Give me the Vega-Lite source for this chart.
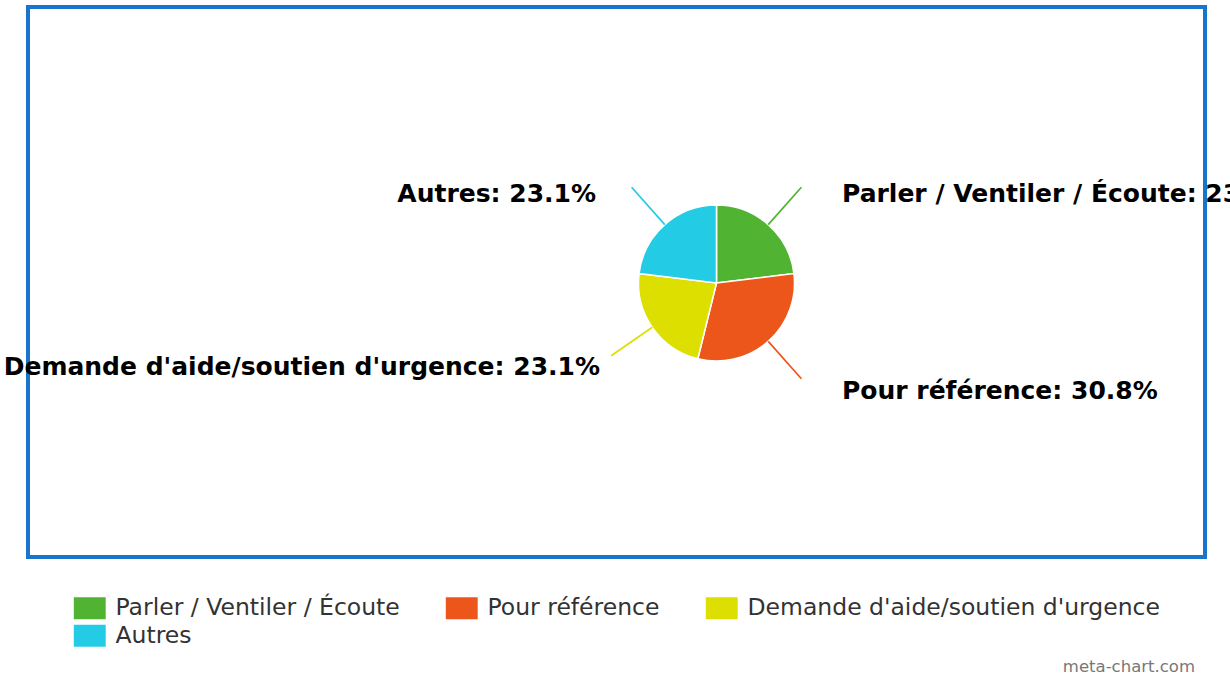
{
  "$schema": "https://vega.github.io/schema/vega-lite/v6.json",
  "width": 1177,
  "height": 550,
  "autosize": {"type": "none"},
  "padding": {"left": 28, "top": 7, "right": 25, "bottom": 118},
  "background": "white",
  "view": {"stroke": "#1874CD", "strokeWidth": 4, "fill": "white"},
  "data": {
    "values": [
      {"category": "Parler / Ventiler / Écoute", "share": 23.1, "label": "Parler / Ventiler / Écoute: 23.1%"},
      {"category": "Pour référence", "share": 30.8, "label": "Pour référence: 30.8%"},
      {"category": "Demande d'aide/soutien d'urgence", "share": 23.1, "label": "Demande d'aide/soutien d'urgence: 23.1%"},
      {"category": "Autres", "share": 23.1, "label": "Autres: 23.1%"}
    ]
  },
  "transform": [{"window": [{"op": "row_number", "as": "rank"}]}],
  "encoding": {
    "theta": {"field": "share", "type": "quantitative", "stack": true},
    "order": {"field": "rank", "type": "quantitative"}
  },
  "layer": [
    {
      "mark": {"type": "arc", "outerRadius": 78, "stroke": "#ffffff", "strokeWidth": 1.5, "xOffset": 100, "yOffset": 1},
      "encoding": {
        "color": {
          "field": "category",
          "type": "nominal",
          "sort": null,
          "scale": {
            "domain": ["Parler / Ventiler / Écoute", "Pour référence", "Demande d'aide/soutien d'urgence", "Autres"],
            "range": ["#50B432", "#ED561B", "#DDDF00", "#24CBE5"]
          },
          "legend": {
            "orient": "none",
            "direction": "horizontal",
            "legendX": 50,
            "legendY": 589,
            "columns": 3,
            "title": null,
            "symbolType": "M-1.45,-1H1.45V1H-1.45Z",
            "symbolSize": 484,
            "symbolStrokeWidth": 0,
            "symbolOpacity": 1,
            "labelFont": "DejaVu Sans",
            "labelFontSize": 23.5,
            "labelColor": "#333333",
            "labelOffset": 14,
            "labelLimit": 600,
            "columnPadding": 45,
            "rowPadding": 3,
            "padding": 0
          }
        }
      }
    },
    {
      "mark": {"type": "arc", "innerRadius": 78, "outerRadius": 128, "padAngle": 3, "fillOpacity": 0, "strokeWidth": 1.7, "xOffset": 100, "yOffset": 1},
      "encoding": {
        "stroke": {
          "field": "category",
          "type": "nominal",
          "scale": {
            "domain": ["Parler / Ventiler / Écoute", "Pour référence", "Demande d'aide/soutien d'urgence", "Autres"],
            "range": ["#50B432", "#ED561B", "#DDDF00", "#24CBE5"]
          },
          "legend": null
        }
      }
    },
    {
      "mark": {"type": "text", "radius": 125, "xOffset": 100, "yOffset": 1, "dx": 42.6, "dy": 12.5, "align": "left", "baseline": "alphabetic", "font": "DejaVu Sans", "fontWeight": "bold", "fontSize": 25, "color": "#000000"},
      "encoding": {"text": {"condition": {"test": "datum.category === 'Parler / Ventiler / Écoute'", "field": "label"}, "value": ""}}
    },
    {
      "mark": {"type": "text", "radius": 125, "xOffset": 100, "yOffset": 1, "dx": 42.6, "dy": 22.5, "align": "left", "baseline": "alphabetic", "font": "DejaVu Sans", "fontWeight": "bold", "fontSize": 25, "color": "#000000"},
      "encoding": {"text": {"condition": {"test": "datum.category === 'Pour référence'", "field": "label"}, "value": ""}}
    },
    {
      "mark": {"type": "text", "radius": 125, "xOffset": 100, "yOffset": 1, "dx": -13.6, "dy": 21, "align": "right", "baseline": "alphabetic", "font": "DejaVu Sans", "fontWeight": "bold", "fontSize": 25, "color": "#000000"},
      "encoding": {"text": {"condition": {"test": "datum.category === \"Demande d'aide/soutien d'urgence\"", "field": "label"}, "value": ""}}
    },
    {
      "mark": {"type": "text", "radius": 125, "xOffset": 100, "yOffset": 1, "dx": -37.6, "dy": 12.5, "align": "right", "baseline": "alphabetic", "font": "DejaVu Sans", "fontWeight": "bold", "fontSize": 25, "color": "#000000"},
      "encoding": {"text": {"condition": {"test": "datum.category === 'Autres'", "field": "label"}, "value": ""}}
    }
  ],
  "title": {
    "text": "meta-chart.com",
    "orient": "bottom",
    "anchor": "end",
    "frame": "group",
    "font": "DejaVu Sans",
    "fontSize": 16.5,
    "fontWeight": "normal",
    "color": "#777777",
    "offset": 11,
    "baseline": "top",
    "dx": -10
  },
  "config": {"view": {"stroke": "#1874CD", "strokeWidth": 4}}
}
